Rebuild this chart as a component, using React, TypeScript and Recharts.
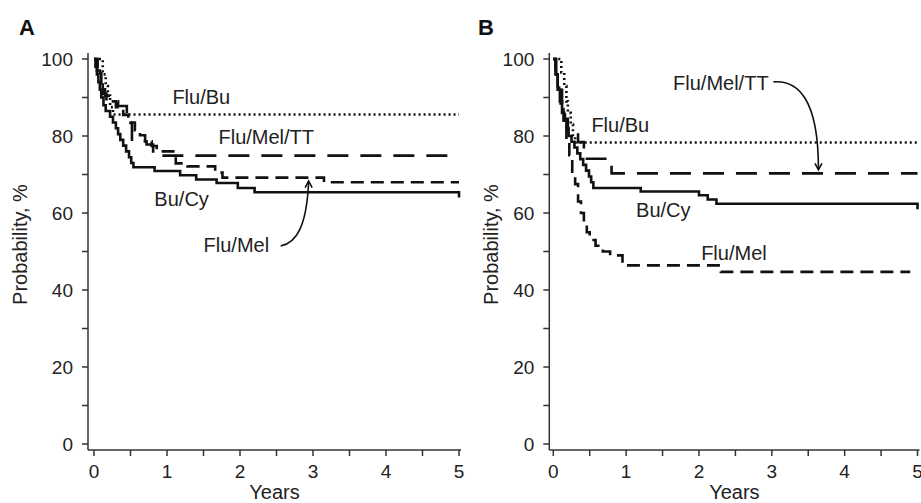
import React from 'react';
import { LineChart, Line, XAxis, YAxis, ReferenceDot, Label } from 'recharts';

// ---- data (years, probability %) ----
const xTicks = [0, 0.5, 1, 1.5, 2, 2.5, 3, 3.5, 4, 4.5, 5];
const yTicks = [0, 10, 20, 30, 40, 50, 60, 70, 80, 90, 100];

const aFluBu = [
  { t: 0, p: 100 }, { t: 0.12, p: 96 }, { t: 0.16, p: 93 }, { t: 0.19, p: 90 },
  { t: 0.22, p: 87.5 }, { t: 0.26, p: 85.6 }, { t: 5, p: 85.6 },
];
const aFluMelTT = [
  { t: 0, p: 100 }, { t: 0.04, p: 97 }, { t: 0.08, p: 94 }, { t: 0.12, p: 91 },
  { t: 0.17, p: 89 }, { t: 0.33, p: 87.8 }, { t: 0.45, p: 85.5 }, { t: 0.5, p: 83.4 },
  { t: 0.52, p: 78.6 }, { t: 0.72, p: 77.8 }, { t: 0.81, p: 74.9 }, { t: 5, p: 74.9 },
];
const aFluMel = [
  { t: 0, p: 100 }, { t: 0.05, p: 97 }, { t: 0.1, p: 93 }, { t: 0.15, p: 90.5 },
  { t: 0.22, p: 89 }, { t: 0.3, p: 87.5 }, { t: 0.4, p: 85.5 }, { t: 0.47, p: 83.5 },
  { t: 0.56, p: 81.5 }, { t: 0.63, p: 80.2 }, { t: 0.7, p: 78.6 }, { t: 0.79, p: 77.4 },
  { t: 0.86, p: 76 }, { t: 1.12, p: 72.9 }, { t: 1.28, p: 72.1 }, { t: 1.66, p: 70.5 },
  { t: 1.76, p: 69.2 }, { t: 3.15, p: 68 }, { t: 5, p: 68 },
];
const aBuCy = [
  { t: 0, p: 100 }, { t: 0.02, p: 98 }, { t: 0.04, p: 96 }, { t: 0.06, p: 94 },
  { t: 0.08, p: 92 }, { t: 0.1, p: 90 }, { t: 0.13, p: 88 }, { t: 0.16, p: 86.5 },
  { t: 0.22, p: 85 }, { t: 0.26, p: 83.5 }, { t: 0.3, p: 82 }, { t: 0.33, p: 80.5 },
  { t: 0.36, p: 79 }, { t: 0.4, p: 77.5 }, { t: 0.44, p: 76 }, { t: 0.48, p: 74.5 },
  { t: 0.51, p: 73 }, { t: 0.54, p: 71.9 }, { t: 0.83, p: 70.9 }, { t: 1.18, p: 69.8 },
  { t: 1.4, p: 68.7 }, { t: 1.68, p: 67.8 }, { t: 1.97, p: 66.5 }, { t: 2.2, p: 65.4 },
  { t: 5, p: 64 },
];

const bFluBu = [
  { t: 0, p: 100 }, { t: 0.11, p: 96.5 }, { t: 0.15, p: 93 }, { t: 0.18, p: 89 },
  { t: 0.2, p: 86 }, { t: 0.24, p: 83 }, { t: 0.27, p: 80 }, { t: 0.3, p: 78.3 },
  { t: 5, p: 78.3 },
];
const bFluMelTT = [
  { t: 0, p: 100 }, { t: 0.04, p: 96 }, { t: 0.08, p: 92 }, { t: 0.12, p: 88 },
  { t: 0.16, p: 84.5 }, { t: 0.2, p: 81.4 }, { t: 0.34, p: 78.4 }, { t: 0.42, p: 74.1 },
  { t: 0.8, p: 70.3 }, { t: 5, p: 70.3 },
];
const bBuCy = [
  { t: 0, p: 100 }, { t: 0.03, p: 96 }, { t: 0.06, p: 92 }, { t: 0.09, p: 89 },
  { t: 0.12, p: 86 }, { t: 0.15, p: 84 }, { t: 0.18, p: 82 }, { t: 0.21, p: 80 },
  { t: 0.25, p: 78.5 }, { t: 0.29, p: 77 }, { t: 0.33, p: 75.5 }, { t: 0.37, p: 74 },
  { t: 0.41, p: 72.5 }, { t: 0.45, p: 71 }, { t: 0.49, p: 69.5 }, { t: 0.52, p: 68 },
  { t: 0.55, p: 66.5 }, { t: 1.2, p: 65.6 }, { t: 2.0, p: 64.6 }, { t: 2.12, p: 63.5 },
  { t: 2.24, p: 62.4 }, { t: 5, p: 61 },
];
const bFluMel = [
  { t: 0, p: 100 }, { t: 0.03, p: 96 }, { t: 0.06, p: 92 }, { t: 0.1, p: 87 },
  { t: 0.14, p: 83 }, { t: 0.18, p: 79 }, { t: 0.22, p: 75 }, { t: 0.26, p: 70 },
  { t: 0.3, p: 67.5 }, { t: 0.34, p: 63 }, { t: 0.38, p: 60 }, { t: 0.42, p: 57 },
  { t: 0.46, p: 55 }, { t: 0.5, p: 53 }, { t: 0.58, p: 51.5 }, { t: 0.68, p: 50 },
  { t: 0.78, p: 49 }, { t: 0.95, p: 46.4 }, { t: 2.3, p: 44.7 }, { t: 4.9, p: 44.7 },
];

// annotation labels: [text, t, p]
const aNotes: [string, number, number][] = [
  ['Flu/Bu', 1.47, 88.3],
  ['Flu/Mel/TT', 2.36, 77.9],
  ['Bu/Cy', 1.2, 61.8],
  ['Flu/Mel', 1.95, 50],
];
const bNotes: [string, number, number][] = [
  ['Flu/Mel/TT', 2.3, 92],
  ['Flu/Bu', 0.92, 81.1],
  ['Bu/Cy', 1.51, 59],
  ['Flu/Mel', 2.48, 47.8],
];
// arrow tips [t, p]
const aArrowTip: [number, number] = [2.94, 68.3];
const bArrowTip: [number, number] = [3.64, 71.2];

const FONT = '"Liberation Sans", Arial, Helvetica, sans-serif';
const INK = '#111';
const AXIS = '#333';

const STYLE = {
  fluBu: { dash: '2 3' },
  fluMelTT: { dash: '21 12' },
  fluMel: { dash: '13 7' },
  buCy: { dash: undefined as string | undefined },
};

type Pt = { t: number; p: number };

interface PanelProps {
  series: { data: Pt[]; dash?: string; name: string }[];
  notes: [string, number, number][];
  arrowTip: [number, number];
  arrowPath: string;
  arrowHead: string;
  width: number;
  yAxisWidth: number;
  marginRight: number;
  padLeft: number;
  padRight: number;
  yLabelX: number;
}

const Panel = (props: PanelProps) => {
  const {
    series, notes, arrowTip, arrowPath, arrowHead, width, yAxisWidth, marginRight,
    padLeft, padRight, yLabelX,
  } = props;
  return (
    <LineChart
      width={width}
      height={503}
      margin={{ top: 53, right: marginRight, bottom: 0, left: 0 }}
      style={{ fontFamily: FONT }}
    >
      <XAxis
        xAxisId="b"
        type="number"
        dataKey="t"
        domain={[0, 5]}
        ticks={xTicks}
        interval={0}
        tickFormatter={(v: number) => (Number.isInteger(v) ? String(v) : '')}
        padding={{ left: padLeft, right: padRight }}
        height={53}
        stroke={AXIS}
        strokeWidth={1.5}
        tickSize={6}
        tickMargin={9}
        tick={{ fill: '#222', fontSize: 19, fontFamily: FONT }}
      >
        <Label
          value="Years"
          position="insideBottom"
          offset={4}
          style={{ fill: '#222', fontSize: 20, fontFamily: FONT }}
        />
      </XAxis>
      <XAxis
        xAxisId="top"
        orientation="top"
        type="number"
        domain={[0, 5]}
        height={0}
        tick={false}
        tickLine={false}
        stroke="#555"
        strokeWidth={1.2}
      />
      <YAxis
        yAxisId="l"
        type="number"
        domain={[0, 100]}
        ticks={yTicks}
        interval={0}
        tickFormatter={(v: number) => (v % 20 === 0 ? String(v) : '')}
        padding={{ top: 6, bottom: 6 }}
        width={yAxisWidth}
        stroke={AXIS}
        strokeWidth={1.5}
        tickSize={6}
        tickMargin={9}
        tick={{ fill: '#222', fontSize: 19, fontFamily: FONT }}
      >
        <Label
          value="Probability, %"
          content={(lp: any) => {
            const vb = lp.viewBox || { x: 0, y: 0, height: 0 };
            const cx = vb.x + yLabelX;
            const cy = vb.y + vb.height / 2 - 7;
            return (
              <text
                x={cx}
                y={cy}
                transform={`rotate(-90 ${cx} ${cy})`}
                textAnchor="middle"
                dominantBaseline="central"
                fill="#222"
                fontSize={20}
                fontFamily={FONT}
              >
                Probability, %
              </text>
            );
          }}
        />
      </YAxis>
      <YAxis
        yAxisId="r"
        orientation="right"
        type="number"
        domain={[0, 100]}
        width={0}
        tick={false}
        tickLine={false}
        stroke="#555"
        strokeWidth={1.2}
      />
      {series.map((s) => (
        <Line
          key={s.name}
          xAxisId="b"
          yAxisId="l"
          data={s.data}
          dataKey="p"
          type="stepAfter"
          dot={false}
          activeDot={false}
          stroke={INK}
          strokeWidth={2.6}
          strokeDasharray={s.dash}
          strokeLinecap="butt"
          isAnimationActive={false}
        />
      ))}
      {notes.map(([text, t, p]) => (
        <ReferenceDot
          key={text}
          xAxisId="b"
          yAxisId="l"
          x={t}
          y={p}
          r={1}
          shape={(sp: any) => (
            <text
              x={sp.cx}
              y={sp.cy}
              textAnchor="middle"
              fill="#222"
              fontSize={20}
              fontFamily={FONT}
            >
              {text}
            </text>
          )}
        />
      ))}
      <ReferenceDot
        xAxisId="b"
        yAxisId="l"
        x={arrowTip[0]}
        y={arrowTip[1]}
        r={1}
        shape={(sp: any) => (
          <g transform={`translate(${sp.cx},${sp.cy})`}>
            <path d={arrowPath} fill="none" stroke={INK} strokeWidth={1.6} />
            <path d={arrowHead} fill="none" stroke={INK} strokeWidth={1.6} />
          </g>
        )}
      />
    </LineChart>
  );
};

export default function App() {
  return (
    <div
      style={{
        position: 'absolute',
        left: 0,
        top: 0,
        width: 921,
        height: 503,
        background: '#fff',
        overflow: 'hidden',
      }}
    >
      <div style={{ position: 'absolute', left: 0, top: 0 }}>
        <Panel
          series={[
            { name: 'Flu/Bu', data: aFluBu, dash: STYLE.fluBu.dash },
            { name: 'Flu/Mel/TT', data: aFluMelTT, dash: STYLE.fluMelTT.dash },
            { name: 'Flu/Mel', data: aFluMel, dash: STYLE.fluMel.dash },
            { name: 'Bu/Cy', data: aBuCy, dash: STYLE.buCy.dash },
          ]}
          notes={aNotes}
          arrowTip={aArrowTip}
          arrowPath="M -28 65 C -12 62, -2 45, 0 1"
          arrowHead="M -3.5 6.5 L 0 0 L 3.5 6.5"
          width={470}
          yAxisWidth={88}
          marginRight={9}
          padLeft={6}
          padRight={2}
          yLabelX={19.6}
        />
      </div>
      <div style={{ position: 'absolute', left: 460, top: 0 }}>
        <Panel
          series={[
            { name: 'Flu/Bu', data: bFluBu, dash: STYLE.fluBu.dash },
            { name: 'Flu/Mel/TT', data: bFluMelTT, dash: STYLE.fluMelTT.dash },
            { name: 'Flu/Mel', data: bFluMel, dash: STYLE.fluMel.dash },
            { name: 'Bu/Cy', data: bBuCy, dash: STYLE.buCy.dash },
          ]}
          notes={bNotes}
          arrowTip={bArrowTip}
          arrowPath="M -45 -88 C -20 -90, 0 -70, 0 -1"
          arrowHead="M -3.5 -6.5 L 0 0 L 3.5 -6.5"
          width={461}
          yAxisWidth={89.3}
          marginRight={1.5}
          padLeft={4}
          padRight={2}
          yLabelX={31.4}
        />
      </div>
      <svg
        width={921}
        height={503}
        style={{ position: 'absolute', left: 0, top: 0, pointerEvents: 'none' }}
      >
        <text x={19} y={35} fontSize={22} fontWeight="bold" fill="#111" fontFamily={FONT}>
          A
        </text>
        <text x={478} y={35} fontSize={22} fontWeight="bold" fill="#111" fontFamily={FONT}>
          B
        </text>
      </svg>
    </div>
  );
}
